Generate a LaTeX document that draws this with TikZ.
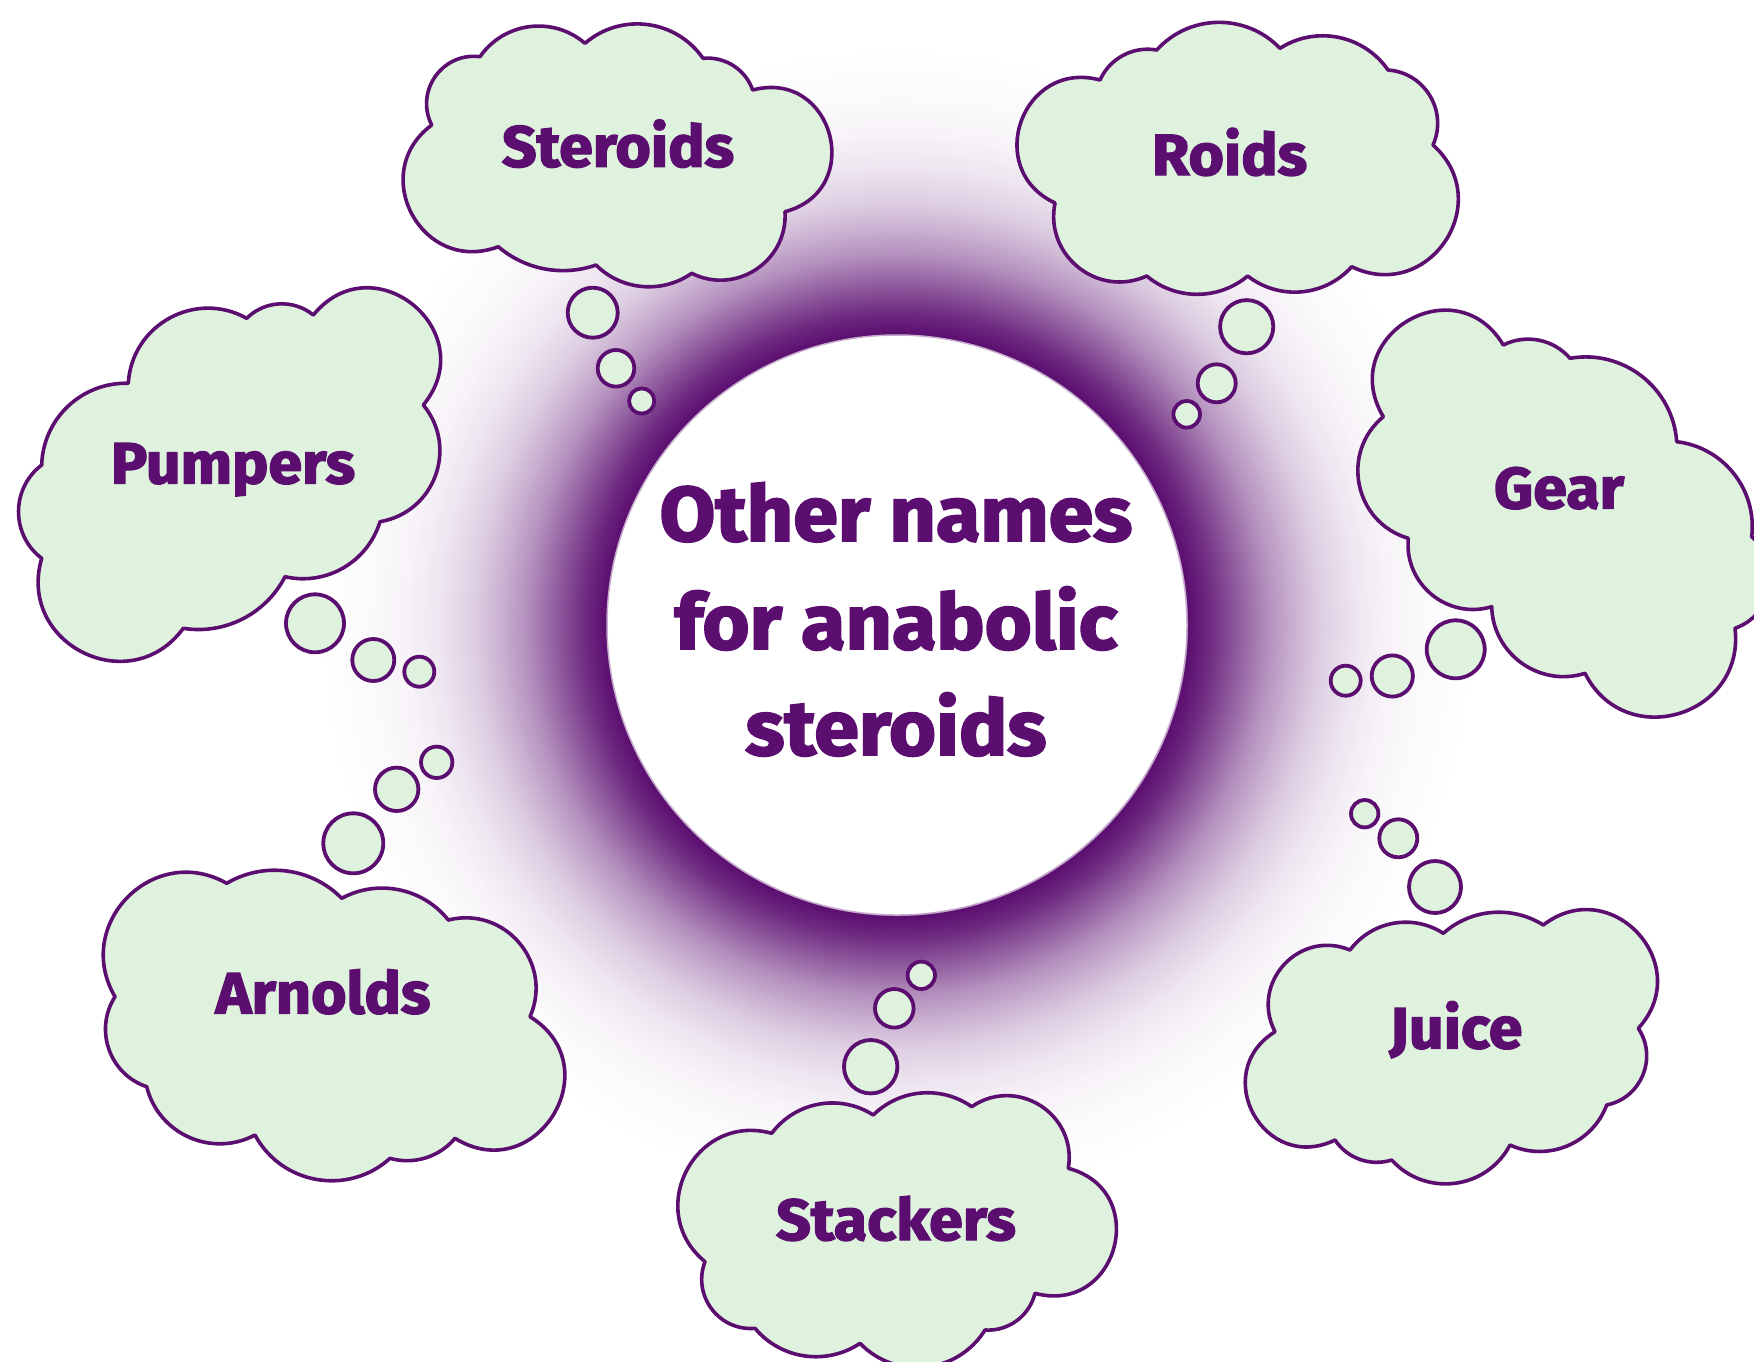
\documentclass[tikz,border=0pt]{standalone}
\usepackage{fontspec}
\setmainfont{Fira Sans}[BoldFeatures={FakeBold=2.5,FakeStretch=1.05}]
\definecolor{pd}{RGB}{91,14,112}
\definecolor{gf}{RGB}{222,242,222}
\pgfdeclareradialshading{glow}{\pgfpointorigin}{color(0bp)=(white); color(287bp)=(white); color(290bp)=(pd); color(312bp)=(pd!88!white); color(342bp)=(pd!66!white); color(368bp)=(pd!47!white); color(394bp)=(pd!33!white); color(420bp)=(pd!21!white); color(455bp)=(pd!11!white); color(490bp)=(pd!5!white); color(530bp)=(pd!2!white); color(575bp)=(white)}
\tikzset{
  pf/.code={\pgfmathsetmacro\lz{0.8514/(cos(#1/2)^2)}\edef\tmpa{\noexpand\pgfkeysalso{/tikz/bend left=#1,/tikz/looseness=\lz}}\tmpa},
  cloudline/.style={draw=pd, fill=gf, line width=3.6pt, line join=round},
  bub/.style={circle, draw=pd, fill=gf, line width=3.8pt, inner sep=0pt, minimum size=#1},
  lbl/.style={font=\fontsize{58}{60}\selectfont\bfseries, text=pd, inner sep=0pt, anchor=base},
  ctr/.style={font=\fontsize{77}{80}\selectfont\bfseries, text=pd, inner sep=0pt, anchor=base}
}
\begin{document}
\begin{tikzpicture}[x=1pt,y=-1pt]
\useasboundingbox[fill=white] (0,0) rectangle (1754,1361);
% glow ring
\node[inner sep=0pt, outer sep=0pt] (glow) at (897,625) {\pgfuseshading{glow}};
\node[circle, fill=white, draw=pd!35!white, line width=1.5pt, minimum size=580pt, inner sep=0pt] (core) at (897,625) {};
% Steroids
\draw[cloudline] (431.7,125) to[pf=62] (480,56.7) to[pf=48] (585,43.3) to[pf=48] (703,58.3) to[pf=38] (752.7,90) to[pf=90] (785,211.7) to[pf=60] (691.7,273.3) to[pf=40] (596,265) to[pf=30] (498.3,246.7) to[pf=82] (431.7,125) -- cycle;
\node[bub=50pt] (s1) at (592.7,312.7) {};
\node[bub=36.6pt] (s2) at (616,368.3) {};
\node[bub=25.2pt] (s3) at (641.7,401) {};
\node[lbl] (tSteroids) at (618,166.7) {Steroids};
% Roids
\draw[cloudline] (1055,203) to[pf=85] (1100,80) to[pf=38] (1156.7,50) to[pf=47] (1280,48.3) to[pf=44] (1388,70) to[pf=55] (1433,145) to[pf=82] (1351.7,266.7) to[pf=43] (1247.7,276) to[pf=40] (1146.7,276) to[pf=63] (1055,203) -- cycle;
\node[bub=53.2pt] (r1) at (1246.7,326.7) {};
\node[bub=38pt] (r2) at (1216.7,383.3) {};
\node[bub=26.6pt] (r3) at (1186.7,414.3) {};
\node[lbl] (tRoids) at (1229.5,175) {Roids};
% Pumpers
\draw[cloudline] (128.3,383.3) to[pf=58] (246.7,318.3) to[pf=42] (313.3,315) to[pf=90] (423.3,405) to[pf=60] (380,521.7) to[pf=43] (285,576.7) to[pf=36] (183.3,628.3) to[pf=80] (41.7,558.3) to[pf=53] (41.7,465) to[pf=45] (128.3,383.3) -- cycle;
\node[bub=58pt] (p1) at (315,623.3) {};
\node[bub=42pt] (p2) at (373.3,660) {};
\node[bub=30pt] (p3) at (419.3,671.7) {};
\node[lbl] (tPumpers) at (233,483.3) {Pumpers};
% Gear
\draw[cloudline] (1383.3,416.7) to[pf=90] (1503.3,345) to[pf=38] (1570,358.3) to[pf=48] (1676.7,441.7) to[pf=45] (1751.7,536.7) to[pf=60] (1735,628.3) to[pf=80] (1585,673.3) to[pf=53] (1491.7,606.7) to[pf=56] (1408.3,538.3) to[pf=62] (1383.3,416.7) -- cycle;
\node[bub=58pt] (g1) at (1455.7,649.3) {};
\node[bub=41.2pt] (g2) at (1392.3,676) {};
\node[bub=30pt] (g3) at (1345.7,680.7) {};
\node[lbl] (tGear) at (1559,508.3) {Gear};
% Arnolds
\draw[cloudline] (115,996.7) to[pf=75] (226.7,883.3) to[pf=38] (341.7,898.3) to[pf=40] (448.3,920) to[pf=64] (530,1016.7) to[pf=90] (455,1138.3) to[pf=33] (390,1158.3) to[pf=52] (255,1135) to[pf=52] (146.7,1086.7) to[pf=52] (115,996.7) -- cycle;
\node[bub=60pt] (a1) at (353.3,843.3) {};
\node[bub=43.4pt] (a2) at (396.7,789.3) {};
\node[bub=31.4pt] (a3) at (436.7,762.3) {};
\node[lbl] (tArnolds) at (323,1013.3) {Arnolds};
% Stackers
\draw[cloudline] (705,1261.7) to[pf=78] (771.7,1133.3) to[pf=43] (873.3,1115) to[pf=40] (971.7,1106.7) to[pf=67] (1068.3,1168.3) to[pf=90] (1035,1293.3) to[pf=40] (985,1330) to[pf=52] (860,1343.3) to[pf=42] (755,1328.3) to[pf=58] (705,1261.7) -- cycle;
\node[bub=53.4pt] (k1) at (870.7,1066.7) {};
\node[bub=38.6pt] (k2) at (894.3,1008.3) {};
\node[bub=27.4pt] (k3) at (921.3,975.3) {};
\node[lbl] (tStackers) at (896,1240) {Stackers};
% Juice
\draw[cloudline] (1275,1031.7) to[pf=70] (1350,950) to[pf=43] (1443.3,933.3) to[pf=37] (1543.3,925) to[pf=85] (1638.3,1028.3) to[pf=56] (1606.7,1105) to[pf=47] (1510,1145) to[pf=55] (1391.7,1160) to[pf=37] (1335,1140) to[pf=87] (1275,1031.7) -- cycle;
\node[bub=52pt] (j1) at (1435,887) {};
\node[bub=38pt] (j2) at (1398.3,838.3) {};
\node[bub=27.4pt] (j3) at (1364.7,813.7) {};
\node[lbl] (tJuice) at (1456,1048.3) {Juice};
% centre text
\node[ctr] (c1) at (896,540.8) {Other names};
\node[ctr] (c2) at (896,649) {for anabolic};
\node[ctr] (c3) at (896,755) {steroids};
\end{tikzpicture}
\end{document}
